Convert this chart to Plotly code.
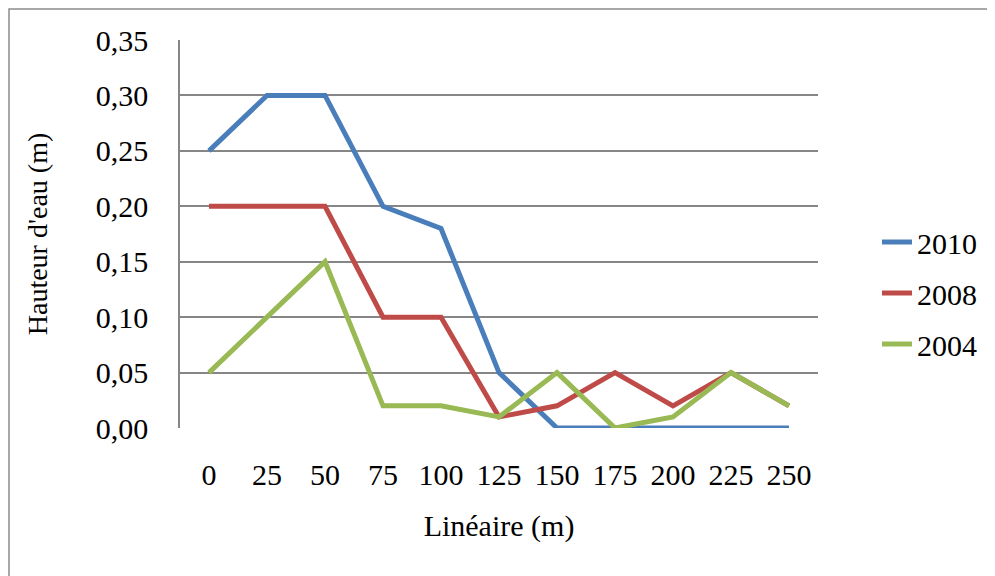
import plotly.graph_objects as go

categories = ["0", "25", "50", "75", "100", "125", "150", "175", "200", "225", "250"]
y2010 = [0.25, 0.30, 0.30, 0.20, 0.18, 0.05, 0.00, 0.00, 0.00, 0.00, 0.00]
y2008 = [0.20, 0.20, 0.20, 0.10, 0.10, 0.01, 0.02, 0.05, 0.02, 0.05, 0.02]
y2004 = [0.05, 0.10, 0.15, 0.02, 0.02, 0.01, 0.05, 0.00, 0.01, 0.05, 0.02]
y_ticks = [0, 0.05, 0.10, 0.15, 0.20, 0.25, 0.30, 0.35]
y_tick_labels = ["0,00", "0,05", "0,10", "0,15", "0,20", "0,25", "0,30", "0,35"]

# page has an 8px body margin, so the figure is drawn 8px smaller / offset
W, H = 987, 568
L, R, T, B = 172, 810, 32, 420

font = "Liberation Serif"
FS = 30

fig = go.Figure()
for name, ys, col in [("2010", y2010, "#4A7EBB"), ("2008", y2008, "#BE4B48"), ("2004", y2004, "#98B954")]:
    fig.add_trace(go.Scatter(x=categories, y=ys, mode="lines", name=name, legendgroup=name,
                             line=dict(color=col, width=5)))

def px_x(p):
    return (p - L) / (R - L)

def px_y(p):
    return (B - p) / (B - T)

fig.add_shape(type="rect", xref="paper", yref="paper",
              x0=px_x(1), x1=px_x(1005), y0=px_y(1), y1=px_y(600),
              line=dict(color="#8c8c8c", width=1.5), fillcolor="rgba(0,0,0,0)", layer="below")

fig.update_layout(
    width=W, height=H,
    margin=dict(l=L, r=W - R, t=T, b=H - B, pad=0),
    paper_bgcolor="white", plot_bgcolor="white",
    font=dict(family=font, size=FS, color="black"),
    showlegend=True,
    legend=dict(x=px_x(869), y=px_y(208), xanchor="left", yanchor="top",
                font=dict(family=font, size=FS, color="black"), tracegroupgap=9,
                bgcolor="rgba(0,0,0,0)"),
    xaxis=dict(type="category", showgrid=False, showline=False, ticks="",
               tickfont=dict(family=font, size=FS), ticklabelstandoff=26,
               title=dict(text="Linéaire (m)", font=dict(family=font, size=FS), standoff=24),
               range=[-0.5, 10.5]),
    yaxis=dict(range=[0, 0.35], tickvals=y_ticks, ticktext=y_tick_labels,
               showgrid=True, gridcolor="#868686", gridwidth=1.5,
               showline=True, linecolor="#868686", linewidth=1.5,
               ticks="", tickfont=dict(family=font, size=FS), zeroline=False,
               ticklabelstandoff=24,
               title=dict(text="Hauteur d'eau (m)", font=dict(family=font, size=28), standoff=40)),
)

fig.write_html("out.html")
